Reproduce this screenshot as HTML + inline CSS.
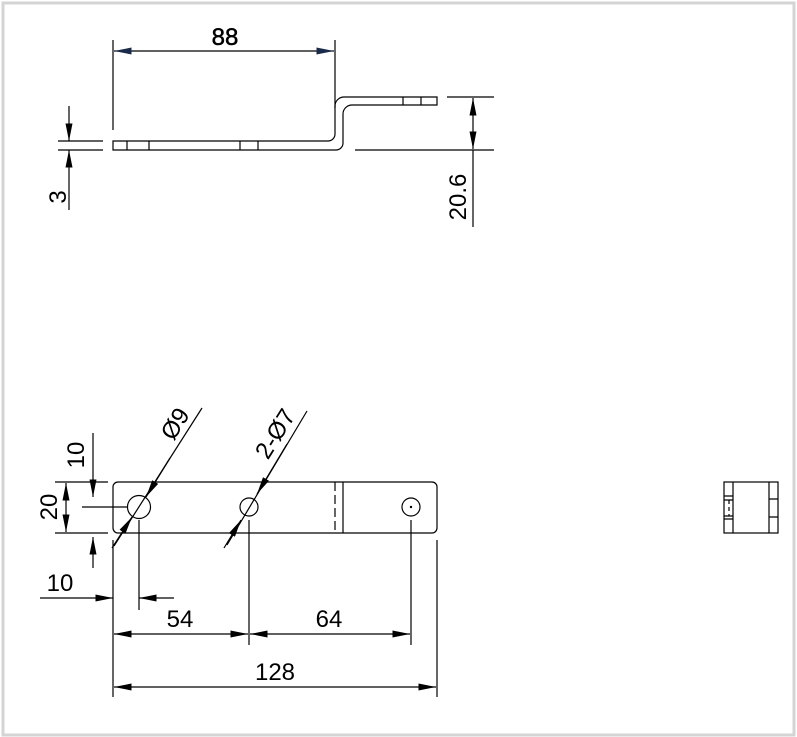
<!DOCTYPE html>
<html><head><meta charset="utf-8"><style>
html,body{margin:0;padding:0;background:#fff}
svg{display:block}
text{font-family:"Liberation Sans",Arial,sans-serif;font-size:24px;fill:#000}
</style></head><body>
<svg width="797" height="737" viewBox="0 0 797 737" xmlns="http://www.w3.org/2000/svg">
<rect x="3" y="3" width="791" height="732" fill="#fff" stroke="#d4d4d4" stroke-width="3"/>
<defs>
<marker id="a" viewBox="0 0 10 4" refX="10" refY="2" markerWidth="18" markerHeight="7" markerUnits="userSpaceOnUse" orient="auto-start-reverse"><path d="M0,0 L10,2 L0,4z" fill="#000"/></marker>
<marker id="b" viewBox="0 0 10 4" refX="10" refY="2" markerWidth="18" markerHeight="7" markerUnits="userSpaceOnUse" orient="auto-start-reverse"><path d="M0,0 L10,2 L0,4z" fill="#1a2a4a"/></marker>
</defs>
<g stroke="#000" stroke-width="1.2" fill="none">
<path d="M113,141 H328 A7,7 0 0 0 335,134 V106 A9,9 0 0 1 344,97 H437 V105 H352 A9,9 0 0 0 343,114 V143 A7,7 0 0 1 336,150 H113 Z"/>
<path d="M127,141V150M149,141V150M240,141V150M258,141V150M403,97V105M421,97V105"/>
<path d="M113,40V130M335,40V108"/>
<path d="M114,51H334" marker-start="url(#b)" marker-end="url(#b)"/>
<path d="M58,141H103M58,150H103"/>
<path d="M69,106V141" marker-end="url(#a)"/>
<path d="M69,210V150" marker-end="url(#a)"/>
<path d="M447,97H494M355,150H494"/>
<path d="M473,98V149" marker-start="url(#a)" marker-end="url(#a)"/>
<path d="M473,150V227"/>
<rect x="113" y="482" width="324" height="51" rx="5"/>
<circle cx="139" cy="507" r="11.5"/>
<circle cx="249" cy="507" r="9"/>
<circle cx="411" cy="507" r="9"/>
<circle cx="411" cy="507" r="0.6" fill="#000"/>
<path d="M335,482V533" stroke-dasharray="9,4"/>
<path d="M343,482V533"/>
<path d="M202,408L114,546"/>
<path d="M170,458L146,497" marker-end="url(#a)"/>
<path d="M112,548L132,517" marker-end="url(#a)"/>
<path d="M307,411L227,545"/>
<path d="M287,444L257,494" marker-end="url(#a)"/>
<path d="M224,548L241,520" marker-end="url(#a)"/>
<path d="M55,482H108M55,533H108M82,507H127"/>
<path d="M66,483V532" marker-start="url(#a)" marker-end="url(#a)"/>
<path d="M93,433V497" marker-end="url(#a)"/>
<path d="M93,568V537" marker-end="url(#a)"/>
<path d="M113,540V697M139,520V610M249,520V645M411,520V645M437,540V697"/>
<path d="M40,598H113" marker-end="url(#a)"/>
<path d="M174,598H139" marker-end="url(#a)"/>
<path d="M114,634H248" marker-start="url(#a)" marker-end="url(#a)"/>
<path d="M250,634H410" marker-start="url(#a)" marker-end="url(#a)"/>
<path d="M114,687H436" marker-start="url(#a)" marker-end="url(#a)"/>
<rect x="724" y="482" width="54" height="51"/>
<path d="M733,482V533M769,482V533M724,496H733M724,500H733M724,516H733M724,519H733M769,499H778M769,517H778"/>
<path d="M729,500V516" stroke-dasharray="4,3"/>
</g>
<text x="225" y="45" text-anchor="middle" stroke="#000" stroke-width="0.5">88</text>
<text transform="translate(66,197) rotate(-90)" text-anchor="middle">3</text>
<text transform="translate(466,197) rotate(-90)" text-anchor="middle">20.6</text>
<text transform="translate(84,455) rotate(-90)" text-anchor="middle">10</text>
<text transform="translate(57,507) rotate(-90)" text-anchor="middle">20</text>
<text transform="translate(182,428) rotate(-58)" text-anchor="middle">Ø9</text>
<text transform="translate(282,438) rotate(-58)" text-anchor="middle">2-Ø7</text>
<text x="60" y="591" text-anchor="middle">10</text>
<text x="180" y="627" text-anchor="middle">54</text>
<text x="329" y="627" text-anchor="middle">64</text>
<text x="275" y="680" text-anchor="middle">128</text>
</svg>
</body></html>
